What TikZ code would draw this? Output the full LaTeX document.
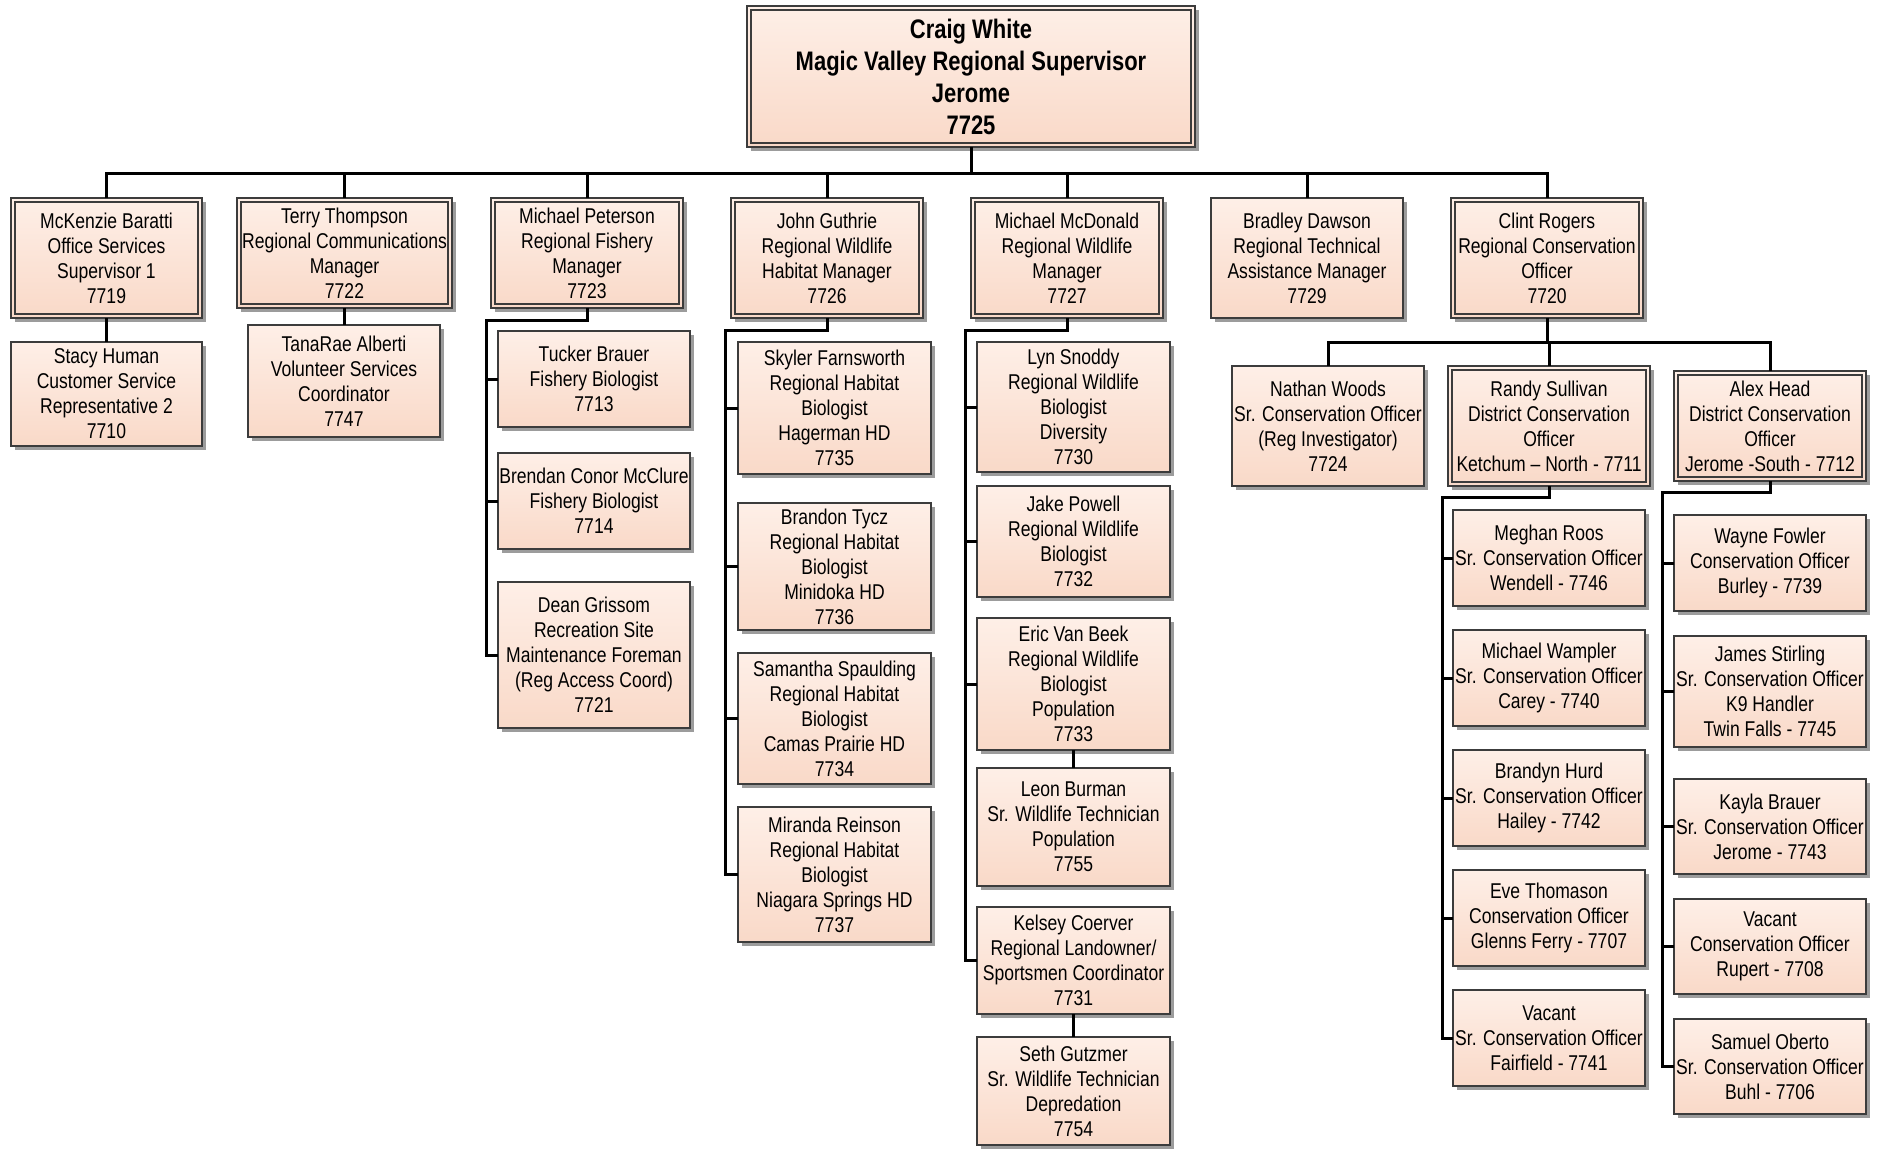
\documentclass[tikz,border=0pt]{standalone}
\usepackage{fontspec}
\setmainfont{Liberation Sans}[FakeStretch=0.82]
\usetikzlibrary{shadows}

\definecolor{peachtop}{HTML}{FEEFE7}
\definecolor{peachbot}{HTML}{F9D9C8}
\definecolor{edgegray}{HTML}{3C3C3C}
\definecolor{shadegray}{HTML}{9C9C9C}

\tikzset{
  box/.style={draw=edgegray, line width=0.6pt, top color=peachtop, bottom color=peachbot,
    inner sep=0pt, outer sep=0pt, align=center,
    font=\fontsize{10.7pt}{12.5pt}\selectfont,
    drop shadow={shadow xshift=2pt, shadow yshift=-2pt, fill=shadegray, opacity=1}},
  bossbox/.style={font=\bfseries\fontsize{13.4pt}{16pt}\selectfont},
  innerframe/.style={draw=edgegray, line width=0.6pt},
  link/.style={line width=1.5pt, black},
}

% \orgbox[options]{name}{x1}{y1}{x2}{y2}{text}  (pixel corners)
\newcommand\orgbox[7][]{%
  \node[box,#1,minimum width={(#5-#3)*0.5pt},minimum height={(#6-#4)*0.5pt}]
    (#2) at ({(#3+#5)/2},{(#4+#6)/2}) {#7};}
% same box with an inner frame
\newcommand\orgdbox[7][]{%
  \orgbox[#1]{#2}{#3}{#4}{#5}{#6}{#7}%
  \draw[innerframe] ([shift={(2pt,-2pt)}]#2.north west) rectangle ([shift={(-2pt,2pt)}]#2.south east);}

\begin{document}
\begin{tikzpicture}[x=0.5pt,y=-0.5pt]
\useasboundingbox (0,0) rectangle (1878,1148);

% --- regional supervisor
\orgdbox[bossbox]{top}{747}{6}{1195}{147}{Craig White\\Magic Valley Regional Supervisor\\Jerome\\7725}

% --- first level
\orgdbox{mck}{11}{198}{202}{318}{McKenzie Baratti\\Office Services\\Supervisor 1\\7719}
\orgdbox{terry}{237}{198}{452}{308}{Terry Thompson\\Regional Communications\\Manager\\7722}
\orgdbox{peter}{491}{198}{683}{308}{Michael Peterson\\Regional Fishery\\Manager\\7723}
\orgdbox{guth}{731}{198}{923}{318}{John Guthrie\\Regional Wildlife\\Habitat Manager\\7726}
\orgdbox{mcd}{971}{198}{1163}{318}{Michael McDonald\\Regional Wildlife\\Manager\\7727}
\orgbox{brad}{1211}{198}{1403}{318}{Bradley Dawson\\Regional Technical\\Assistance Manager\\7729}
\orgdbox{clint}{1451}{198}{1643}{318}{Clint Rogers\\Regional Conservation\\Officer\\7720}

% --- office / communications
\orgbox{stacy}{11}{342}{202}{446}{Stacy Human\\Customer Service\\Representative 2\\7710}
\orgbox{tana}{248}{325}{440}{437}{TanaRae Alberti\\Volunteer Services\\Coordinator\\7747}

% --- fishery
\orgbox{tucker}{498}{331}{690}{427}{Tucker Brauer\\Fishery Biologist\\7713}
\orgbox{brendan}{498}{453}{690}{549}{Brendan Conor McClure\\Fishery Biologist\\7714}
\orgbox{dean}{498}{582}{690}{728}{Dean Grissom\\Recreation Site\\Maintenance Foreman\\(Reg Access Coord)\\7721}

% --- habitat
\orgbox{skyler}{738}{342}{931}{474}{Skyler Farnsworth\\Regional Habitat\\Biologist\\Hagerman HD\\7735}
\orgbox{brandon}{738}{503}{931}{630}{Brandon Tycz\\Regional Habitat\\Biologist\\Minidoka HD\\7736}
\orgbox{samantha}{738}{653}{931}{784}{Samantha Spaulding\\Regional Habitat\\Biologist\\Camas Prairie HD\\7734}
\orgbox{miranda}{738}{807}{931}{942}{Miranda Reinson\\Regional Habitat\\Biologist\\Niagara Springs HD\\7737}

% --- wildlife
\orgbox{lyn}{977}{342}{1170}{472}{Lyn Snoddy\\Regional Wildlife\\Biologist\\Diversity\\7730}
\orgbox{jake}{977}{486}{1170}{597}{Jake Powell\\Regional Wildlife\\Biologist\\7732}
\orgbox{eric}{977}{618}{1170}{750}{Eric Van Beek\\Regional Wildlife\\Biologist\\Population\\7733}
\orgbox{leon}{977}{768}{1170}{886}{Leon Burman\\Sr. Wildlife Technician\\Population\\7755}
\orgbox{kelsey}{977}{907}{1170}{1014}{Kelsey Coerver\\Regional Landowner/\\Sportsmen Coordinator\\7731}
\orgbox{seth}{977}{1037}{1170}{1145}{Seth Gutzmer\\Sr. Wildlife Technician\\Depredation\\7754}

% --- enforcement
\orgbox{nathan}{1232}{366}{1424}{486}{Nathan Woods\\Sr. Conservation Officer\\(Reg Investigator)\\7724}
\orgdbox{randy}{1448}{366}{1650}{486}{Randy Sullivan\\District Conservation\\Officer\\Ketchum – North - 7711}
\orgdbox{alex}{1674}{371}{1866}{481}{Alex Head\\District Conservation\\Officer\\Jerome -South - 7712}

\orgbox{meghan}{1453}{510}{1645}{606}{Meghan Roos\\Sr. Conservation Officer\\Wendell - 7746}
\orgbox{wampler}{1453}{630}{1645}{726}{Michael Wampler\\Sr. Conservation Officer\\Carey - 7740}
\orgbox{brandyn}{1453}{750}{1645}{846}{Brandyn Hurd\\Sr. Conservation Officer\\Hailey - 7742}
\orgbox{eve}{1453}{870}{1645}{966}{Eve Thomason\\Conservation Officer\\Glenns Ferry - 7707}
\orgbox{vacf}{1453}{990}{1645}{1086}{Vacant\\Sr. Conservation Officer\\Fairfield - 7741}

\orgbox{wayne}{1674}{515}{1866}{611}{Wayne Fowler\\Conservation Officer\\Burley - 7739}
\orgbox{james}{1674}{636}{1866}{747}{James Stirling\\Sr. Conservation Officer\\K9 Handler\\Twin Falls - 7745}
\orgbox{kayla}{1674}{779}{1866}{874}{Kayla Brauer\\Sr. Conservation Officer\\Jerome - 7743}
\orgbox{vacr}{1674}{899}{1866}{994}{Vacant\\Conservation Officer\\Rupert - 7708}
\orgbox{samuel}{1674}{1019}{1866}{1114}{Samuel Oberto\\Sr. Conservation Officer\\Buhl - 7706}

% --- connectors
\coordinate (bus) at (0,173);
\draw[link] (top.south) -- (top.south |- bus);
\draw[link] (mck.north) -- (mck.north |- bus) -- (clint.north |- bus) -- (clint.north);
\foreach \n in {terry,peter,guth,mcd,brad}
  \draw[link] (\n.north) -- (\n.north |- bus);

\draw[link] (mck.south) -- (stacy.north);
\draw[link] (terry.south) -- (terry.south |- tana.north);

\coordinate (pk) at (486,320);
\draw[link] (peter.south) |- (pk) -- (pk |- dean.west) -- (dean.west);
\foreach \n in {tucker,brendan}
  \draw[link] (\n.west) -- (\n.west -| pk);

\coordinate (gk) at (725,330);
\draw[link] (guth.south) |- (gk) -- (gk |- miranda.west) -- (miranda.west);
\foreach \n in {skyler,brandon,samantha}
  \draw[link] (\n.west) -- (\n.west -| gk);

\coordinate (mk) at (965,330);
\draw[link] (mcd.south) |- (mk) -- (mk |- kelsey.west) -- (kelsey.west);
\foreach \n in {lyn,jake,eric}
  \draw[link] (\n.west) -- (\n.west -| mk);
\draw[link] (eric.south) -- (leon.north);
\draw[link] (kelsey.south) -- (seth.north);

\coordinate (cbus) at (0,342);
\draw[link] (clint.south) -- (clint.south |- cbus);
\draw[link] (nathan.north) -- (nathan.north |- cbus) -- (alex.north |- cbus) -- (alex.north);
\draw[link] (randy.north) -- (randy.north |- cbus);

\coordinate (rk) at (1442,497);
\draw[link] (randy.south) |- (rk) -- (rk |- vacf.west) -- (vacf.west);
\foreach \n in {meghan,wampler,brandyn,eve}
  \draw[link] (\n.west) -- (\n.west -| rk);

\coordinate (ak) at (1662,492);
\draw[link] (alex.south) |- (ak) -- (ak |- samuel.west) -- (samuel.west);
\foreach \n in {wayne,james,kayla,vacr}
  \draw[link] (\n.west) -- (\n.west -| ak);
\end{tikzpicture}
\end{document}
